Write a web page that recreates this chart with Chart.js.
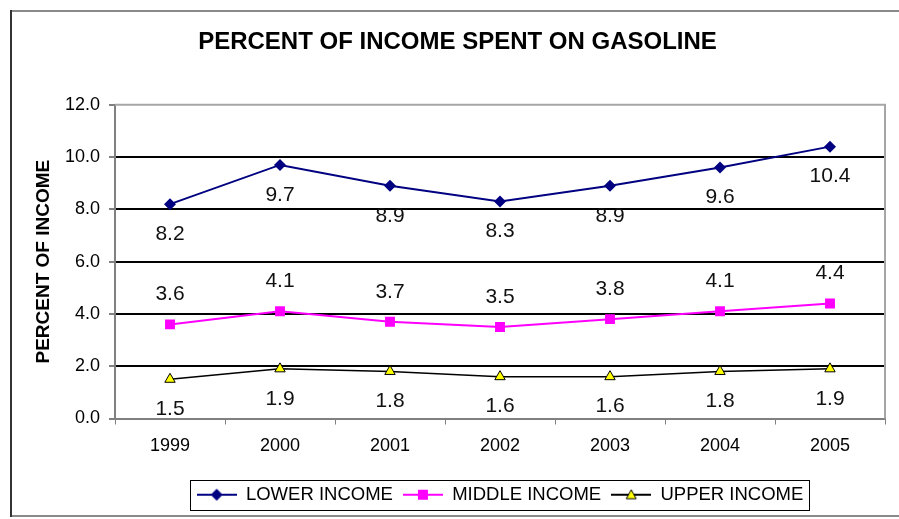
<!DOCTYPE html>
<html>
<head>
<meta charset="utf-8">
<script src="https://cdn.jsdelivr.net/npm/chart.js@4.4.1/dist/chart.umd.min.js"></script>
<style>
    html, body { margin: 0; padding: 0; background: #fff; }
    #wrap { width: 899px; height: 519px; position: relative; }
</style>
</head>
<body>
<div id="wrap"><canvas id="gasChart" width="899" height="519"></canvas></div>
<script>
// Du lieu doc tu hinh
const years = ['1999', '2000', '2001', '2002', '2003', '2004', '2005'];
const lowerIncome = [8.2, 9.7, 8.9, 8.3, 8.9, 9.6, 10.4];
const middleIncome = [3.6, 4.1, 3.7, 3.5, 3.8, 4.1, 4.4];
const upperIncome = [1.5, 1.9, 1.8, 1.6, 1.6, 1.8, 1.9];
const yTicks = [0, 2, 4, 6, 8, 10, 12];

const FONT = 'Arial, "Liberation Sans", sans-serif';

// Icon cho legend: duong ke + marker o giua
function legendIcon(color, shape, fill) {
    const c = document.createElement('canvas');
    c.width = 40;
    c.height = 16;
    const g = c.getContext('2d');
    g.strokeStyle = color;
    g.lineWidth = 2;
    g.beginPath();
    g.moveTo(0, 8);
    g.lineTo(40, 8);
    g.stroke();
    g.fillStyle = fill;
    g.beginPath();
    if (shape === 'diamond') {
        g.moveTo(20, 2); g.lineTo(26, 8); g.lineTo(20, 14); g.lineTo(14, 8);
    } else if (shape === 'square') {
        g.rect(15, 3, 10, 10);
    } else {
        g.moveTo(20, 3); g.lineTo(25, 12); g.lineTo(15, 12);
    }
    g.closePath();
    g.fill();
    if (shape === 'triangle') {
        g.lineWidth = 1;
        g.strokeStyle = '#000';
        g.stroke();
    }
    return c;
}

const icons = [
    legendIcon('#000080', 'diamond', '#000080'),
    legendIcon('#ff00ff', 'square', '#ff00ff'),
    legendIcon('#000000', 'triangle', '#ffff00')
];

// Khung ngoai + vien vung ve
const framePlugin = {
    id: 'frames',
    beforeDraw(chart) {
        const ctx = chart.ctx;
        ctx.save();
        ctx.lineWidth = 2;
        ctx.strokeStyle = '#8a8a8a';
        ctx.beginPath();
        ctx.moveTo(10, 11); ctx.lineTo(899, 11);
        ctx.moveTo(10, 516); ctx.lineTo(899, 516);
        ctx.stroke();
        ctx.strokeStyle = '#333';
        ctx.beginPath();
        ctx.moveTo(11, 10); ctx.lineTo(11, 517);
        ctx.stroke();
        ctx.restore();
    },
    beforeDatasetsDraw(chart) {
        const a = chart.chartArea;
        const ctx = chart.ctx;
        ctx.save();
        ctx.lineWidth = 2;
        ctx.strokeStyle = '#a6a6a6';
        ctx.beginPath();
        ctx.moveTo(a.left, a.top); ctx.lineTo(a.right, a.top); ctx.lineTo(a.right, a.bottom);
        ctx.stroke();
        ctx.restore();
    },
    afterDraw(chart) {
        // khung legend
        const boxes = chart.legend.legendHitBoxes;
        if (!boxes || !boxes.length) return;
        let l = Infinity, r = -Infinity, cy = 0;
        boxes.forEach(function(b) {
            l = Math.min(l, b.left);
            r = Math.max(r, b.left + b.width);
            cy = b.top + b.height / 2;
        });
        const ctx = chart.ctx;
        ctx.save();
        ctx.lineWidth = 1;
        ctx.strokeStyle = '#000';
        ctx.strokeRect(Math.round(l - 7) + 0.5, Math.round(cy - 15) + 0.5, Math.round(r - l + 12), 30);
        ctx.restore();
    }
};

// Nhan gia tri tren tung diem
const valueLabels = {
    id: 'valueLabels',
    afterDatasetsDraw(chart) {
        const ctx = chart.ctx;
        ctx.save();
        ctx.font = '21px ' + FONT;
        ctx.fillStyle = '#111';
        ctx.textAlign = 'center';
        ctx.textBaseline = 'middle';
        chart.data.datasets.forEach(function(ds, i) {
            const meta = chart.getDatasetMeta(i);
            meta.data.forEach(function(pt, j) {
                ctx.fillText(ds.data[j].toFixed(1), pt.x, pt.y + ds.labelOffset);
            });
        });
        ctx.restore();
    }
};

new Chart(document.getElementById('gasChart'), {
    type: 'line',
    data: {
        labels: years,
        datasets: [{
            label: 'LOWER INCOME',
            data: lowerIncome,
            borderColor: '#000080',
            backgroundColor: '#000080',
            borderWidth: 2,
            pointStyle: 'rectRot',
            pointRadius: 6,
            pointBorderWidth: 0,
            labelOffset: 30,
            icon: icons[0]
        }, {
            label: 'MIDDLE INCOME',
            data: middleIncome,
            borderColor: '#ff00ff',
            backgroundColor: '#ff00ff',
            borderWidth: 2,
            pointStyle: 'rect',
            pointRadius: 7,
            pointBorderWidth: 0,
            labelOffset: -30,
            icon: icons[1]
        }, {
            label: 'UPPER INCOME',
            data: upperIncome,
            borderColor: '#000000',
            backgroundColor: '#ffff00',
            borderWidth: 1.5,
            pointStyle: 'triangle',
            pointRadius: 6,
            pointBorderWidth: 1,
            pointBorderColor: '#000',
            labelOffset: 30,
            icon: icons[2]
        }]
    },
    options: {
        responsive: false,
        animation: false,
        devicePixelRatio: 1,
        layout: {
            padding: { top: 0, right: 14, bottom: 5, left: 30 }
        },
        plugins: {
            title: {
                display: true,
                text: 'PERCENT OF INCOME SPENT ON GASOLINE',
                color: '#000',
                font: { family: FONT, size: 24, weight: 'bold' },
                padding: { top: 28, bottom: 48 }
            },
            legend: {
                position: 'bottom',
                fullSize: false,
                labels: {
                    color: '#000',
                    font: { family: FONT, size: 18.5 },
                    usePointStyle: true,
                    pointStyleWidth: 40,
                    padding: 10,
                    generateLabels: function(chart) {
                        return chart.data.datasets.map(function(ds, i) {
                            return {
                                text: ds.label,
                                pointStyle: ds.icon,
                                fontColor: '#000',
                                datasetIndex: i,
                                hidden: false
                            };
                        });
                    }
                }
            },
            tooltip: { enabled: false }
        },
        scales: {
            x: {
                offset: true,
                afterFit: function(s) { s.height = 57; },
                grid: {
                    offset: true,
                    drawOnChartArea: false,
                    drawTicks: true,
                    tickLength: 6,
                    tickColor: '#808080'
                },
                border: { color: '#808080', width: 2 },
                ticks: {
                    color: '#000',
                    font: { family: FONT, size: 18 },
                    padding: 11,
                    maxRotation: 0
                }
            },
            y: {
                min: 0,
                max: 12,
                afterFit: function(s) { s.width = 85; },
                afterBuildTicks: function(s) {
                    s.ticks = yTicks.map(function(v) { return { value: v }; });
                },
                grid: {
                    color: function(c) {
                        return (c.tick && (c.tick.value === 0 || c.tick.value === 12)) ? 'rgba(0,0,0,0)' : '#000';
                    },
                    lineWidth: 2,
                    tickLength: 6,
                    tickColor: '#808080'
                },
                border: { color: '#808080', width: 2 },
                ticks: {
                    color: '#000',
                    font: { family: FONT, size: 18 },
                    padding: 9,
                    callback: function(v) { return Number(v).toFixed(1); }
                },
                title: {
                    display: true,
                    text: 'PERCENT OF INCOME',
                    color: '#000',
                    font: { family: FONT, size: 19, weight: 'bold' },
                    padding: { top: 2, bottom: 0 }
                }
            }
        }
    },
    plugins: [framePlugin, valueLabels]
});
</script>
</body>
</html>
